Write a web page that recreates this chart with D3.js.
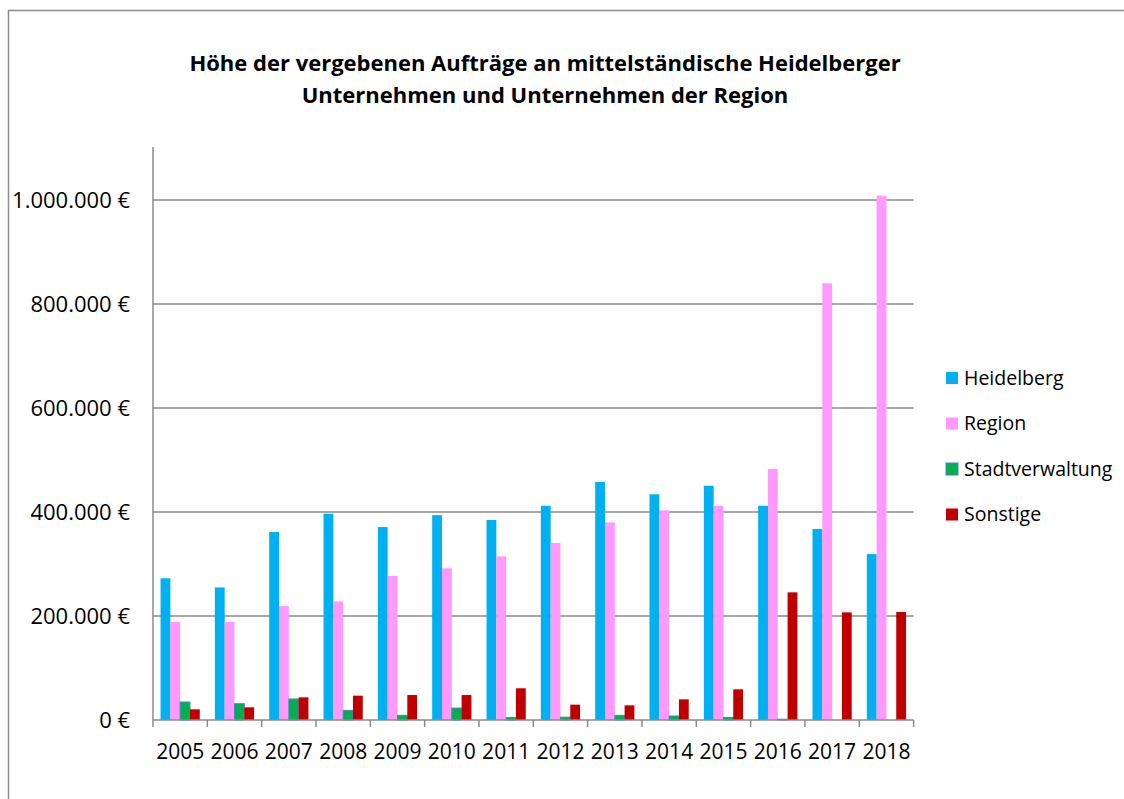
<!DOCTYPE html>
<html><head><meta charset="utf-8">
<script src="https://cdn.jsdelivr.net/npm/d3@7"></script>
<style>body{margin:0;background:#fff}svg{display:block;font-family:"Open Sans",sans-serif}</style>
</head><body>
<svg id="c" width="1124" height="799"></svg>
<script>
const years = ["2005","2006","2007","2008","2009","2010","2011","2012","2013","2014","2015","2016","2017","2018"];
const seriesNames = ["Heidelberg","Region","Stadtverwaltung","Sonstige"];
const heidelberg = [272500,255000,361500,396700,371000,394000,384600,412000,457700,434000,450600,412000,367300,319000];
const region = [188500,188500,219000,228200,277000,291700,314700,340400,380000,403200,412000,482700,839800,1008300];
const stadtverwaltung = [34600,31300,40400,18600,9000,23000,5000,5500,9000,7700,5000,1500,0,0];
const sonstige = [20500,24400,43600,46800,48000,48000,61000,29500,28200,39700,59000,245500,207000,207700];
const yTicks = [0,200000,400000,600000,800000,1000000];
const colors = ["#00B0F0","#FF99FF","#00B050","#C00000"];
const titleLines = ["Höhe der vergebenen Aufträge an mittelständische Heidelberger","Unternehmen und Unternehmen der Region"];

const values = [heidelberg, region, stadtverwaltung, sonstige];
const svg = d3.select("#c");
const M = {left:153, right:913.6, top:148, bottom:720};
const FONT = "Open Sans";

svg.append("rect").attr("x",8.5).attr("y",10.5).attr("width",1130).attr("height",800)
  .attr("fill","none").attr("stroke","#8c8c8c").attr("stroke-width",1.5);

const y = d3.scaleLinear().domain([0,1100000]).range([M.bottom,M.top]);
const x0 = d3.scaleBand().domain(years).range([M.left,M.right]).padding(0);
const x1 = d3.scaleBand().domain(seriesNames).range([0,x0.bandwidth()]).paddingInner(0).paddingOuter(0.77);

// gridlines
svg.append("g").selectAll("line").data(yTicks.filter(d=>d>0)).join("line")
  .attr("x1",M.left).attr("x2",M.right).attr("y1",d=>y(d)).attr("y2",d=>y(d))
  .attr("stroke","#8a8a8a").attr("stroke-width",1.5);

// bars
const g = svg.append("g");
years.forEach((yr,i)=>{
  seriesNames.forEach((s,j)=>{
    const v = values[j][i];
    if (v<=0) return;
    g.append("rect").attr("x",x0(yr)+x1(s)).attr("width",x1.bandwidth())
      .attr("y",y(v)).attr("height",y(0)-y(v)).attr("fill",colors[j])
      .attr("stroke", j===2 ? "#4F81BD" : "none").attr("stroke-width", j===2?1:0);
  });
});

// y axis
const ya = svg.append("g").attr("transform",`translate(${M.left},0)`)
  .call(d3.axisLeft(y).tickValues(yTicks).tickSize(0).tickPadding(23)
    .tickFormat(d=>d3.format(",")(d).replace(/,/g,".")+" €"));
ya.select(".domain").attr("stroke","#8a8a8a").attr("stroke-width",1.5).attr("d",`M0,${M.top-1}V${M.bottom}`);
ya.selectAll("text").attr("font-size",22).attr("fill","#000").style("font-family",FONT);

// x axis
const xa = svg.append("g").attr("transform",`translate(0,${M.bottom})`)
  .call(d3.axisBottom(x0).tickSize(0).tickPadding(24));
xa.select(".domain").attr("stroke","#8a8a8a").attr("stroke-width",1.5).attr("d",`M${M.left},0H${M.right}`);
xa.selectAll("text").attr("font-size",21).attr("fill","#000").style("font-family",FONT);
svg.append("g").selectAll("line").data(d3.range(years.length+1)).join("line")
  .attr("x1",i=>M.left+i*x0.step()).attr("x2",i=>M.left+i*x0.step())
  .attr("y1",M.bottom).attr("y2",M.bottom+7).attr("stroke","#8a8a8a").attr("stroke-width",1.5);

// title
svg.append("g").selectAll("text").data(titleLines).join("text")
  .attr("x",545).attr("y",(d,i)=>71+i*32).attr("text-anchor","middle")
  .attr("font-size",22).attr("font-weight","bold").style("font-family",FONT).text(d=>d);

// legend
const lg = svg.append("g");
seriesNames.forEach((s,j)=>{
  const cy = 378 + j*45.5;
  lg.append("rect").attr("x",946).attr("y",cy-6).attr("width",12).attr("height",12)
    .attr("fill",colors[j]).attr("stroke", j===2?"#4F81BD":"none").attr("stroke-width",1);
  lg.append("text").attr("x",964).attr("y",cy).attr("dy","0.35em").attr("font-size",19.5)
    .style("font-family",FONT).text(s);
});
</script>
</body></html>
